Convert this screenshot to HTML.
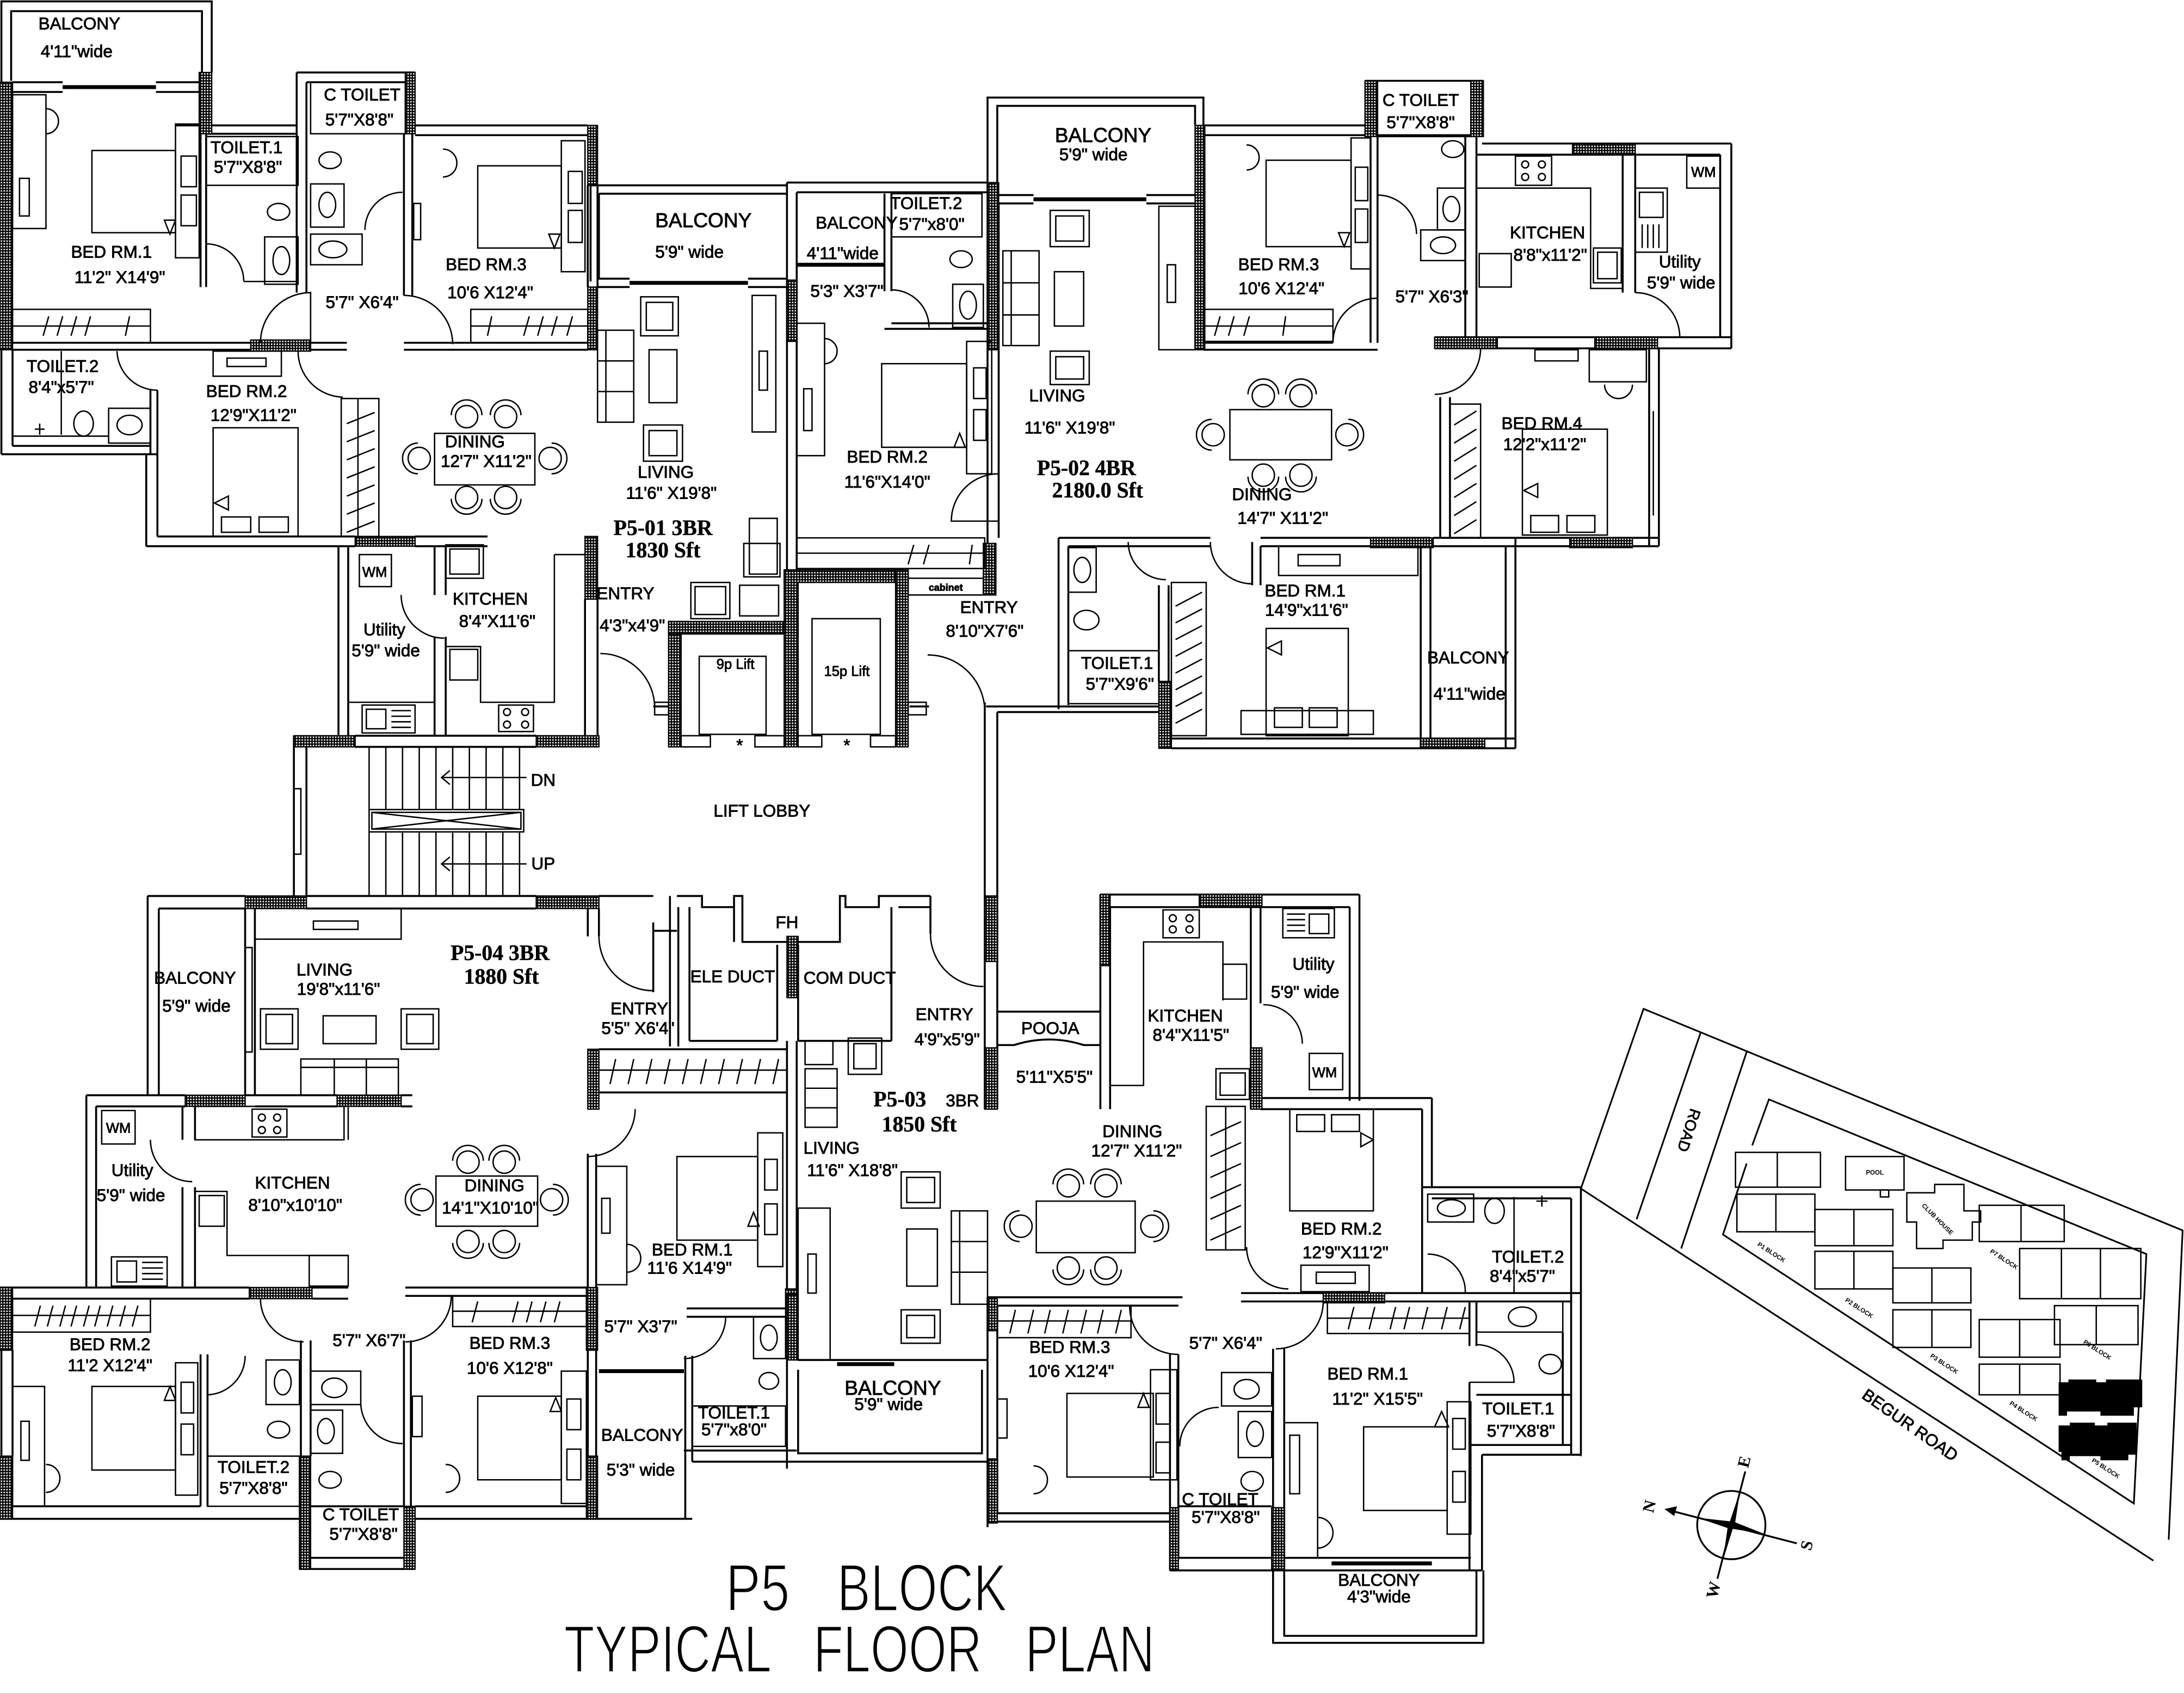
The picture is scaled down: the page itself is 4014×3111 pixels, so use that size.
<!DOCTYPE html>
<html><head><meta charset="utf-8">
<style>
html,body{margin:0;padding:0;background:#fff;width:4014px;height:3111px;overflow:hidden}
svg{display:block}
.w{fill:none;stroke:#000;stroke-width:1.4}
.f{fill:none;stroke:#000;stroke-width:1}
.h{fill:url(#hp);stroke:#000;stroke-width:0.9}
.th{fill:none;stroke:#000;stroke-width:2.8}
text{font-family:"Liberation Sans",sans-serif;font-size:12.3px;fill:#000;stroke:#000;stroke-width:0.35;text-anchor:middle}
text.b{font-family:"Liberation Serif",serif;font-weight:bold;font-size:15.5px;stroke-width:0.2}
text.l{font-size:14.5px}
text.s{font-size:10px}
text.xs{font-size:7px;font-weight:bold}
text.t{font-size:48px;stroke:#fff;stroke-width:1.1;text-anchor:start}
text.m{font-size:4.5px;stroke:none;font-weight:bold}
text.c{font-family:"Liberation Serif",serif;font-weight:bold;font-size:12px;stroke:none}
</style></head><body>
<svg xmlns="http://www.w3.org/2000/svg" width="4014" height="3111" viewBox="0 0 1568 1215" preserveAspectRatio="none">
<defs>
<pattern id="hp" width="2" height="2" patternUnits="userSpaceOnUse"><rect width="2" height="2" fill="#000"/><rect x="0.5" y="0.5" width="1.05" height="1.05" fill="#fff"/></pattern>
</defs>
<rect width="1568" height="1215" fill="#fff"/>

<!-- ================= WALLS ================= -->
<path class="w" d="
M1 62 V1 H152 V52 M8 58 V8 H145 V52
M9 59 H45 M112 59 H143 M9 66 H45 M112 66 H143
M126 90 H213 M148 96 H213
M144 96 V206 M148 96 V206
M9 246 H180 M9 251 H180 M223 246 H249 M223 251 H249
M290 246 H422 M290 251 H422
M213 52 H298 M220 59 H291
M213 52 V210 M220 59 V210
M290 96 V212 M296 96 V212
M296 90 H422 M298 97 H422
M422 133 V206 M429 133 V206
M424 133 H565 M430 139 H565 M424 133 V202 M430 139 V200
M429 200 H452 M537 200 H565 M429 206 H452 M537 206 H565
M565 131 V409 M572 138 V409
M1 251 V326 M9 251 V320 M1 326 H113 M9 320 H108
M108 280 V326 M113 280 V326
M105 326 V392 M113 326 V385
M105 392 H255 M113 385 H255
M298 385 H350 M298 392 H350
M243 392 V536 M250 392 V528
M312 392 V427 M320 392 V427 M312 457 V528 M320 457 V528
M420 430 V528 M429 430 V536
M255 528 H385 M255 536 H385
M469 507 H480 M653 507 H667

M211 528 V650 M220 536 V643
M220 643 H385 M220 652 H385
M106 643 H176 M114 652 H176
M106 643 V786 M114 652 V786
M176 652 V786 M183 652 V786
M430 643 H469
M422 652 V672 M430 652 V672
M469 662 V712 M469 668 H486
M481 643 V751 M487 651 V751
M486 643 H504 V651 H527 V643 H533 V676 H603 V643 H607 V651 H631 V643 H650
M495 651 V747 M558 678 V747 M573 678 V747 M640 651 V747
M495 747 H558 M573 747 H640 M527 651 V676
M640 643 H668 M645 651 H668 M668 643 V670
M176 786 H242 M183 794 H242 M288 786 H296 M288 794 H296
M62 786 H133 M69 794 H133
M62 786 V924 M69 794 V924
M131 794 V818 M140 794 V818 M131 852 V924 M140 852 V924
M0 924 H179 M9 932 H179 M224 924 H250 M224 932 H250
M1 969 V1045 M9 969 V1045
M422 828 V1090 M428 828 V1090
M430 753 H565 M430 784 H565
M493 939 H565 M493 945 H565
M492 973 V1090 M497 973 V1049
M491 1041 H572 M497 1049 H709
M428 1090 H497
M144 972 V1081 M149 972 V1081
M216 962 V1045 M223 962 V1045
M290 962 V1081 M295 962 V1081
M291 924 H422 M291 930 H422
M215 1126 H298 M223 1118 H290 M223 1081 H290
M0 1090 H216 M9 1081 H144
M298 1090 H429 M298 1081 H421

M709 140 V70 H864 V90 M716 140 V76 H858 V90
M716 140 H742 M823 140 H858 M717 146 H742 M823 146 H864
M709 140 V423 M717 146 V386
M565 131 H709 M572 138 H709
M635 139 V209 M640 139 V209
M635 236 H709 M640 232 H709
M864 90 H980 M864 97 H984
M984 97 V246 M989 97 V246
M864 246 H957 M864 251 H989
M980 58 H1065 M989 97 H1056
M1052 97 V243 M1060 97 V243
M1064 103 H1243 M1060 111 H1235
M1235 111 V242 M1243 103 V250
M1165 111 V210 M1174 111 V210
M1030 242 H1243 M1030 250 H1243
M1034 285 V386 M1041 285 V386
M1184 250 V392 M1191 250 V392
M1029 386 H1191 M1029 392 H1191
M760 386 H869 M767 392 H869
M760 386 V509 M767 392 V506
M832 420 V489 M839 420 V489
M899 389 V420 M905 392 V420
M905 386 H1027 M905 392 H1020
M1020 392 V537 M1027 392 V537
M1027 392 H1088 M1081 392 V537 M1088 386 V537
M841 530 H1088 M841 537 H1088
M708 507 H832 M716 511 H832
M707 504 V796 M716 511 V796

M790 642 H976 M797 651 H969
M790 642 V796 M797 651 V796
M898 651 V796 M905 651 V720
M969 651 V790 M976 642 V790
M905 788 H1028 M905 796 H1021
M1021 796 V928 M1028 788 V852
M1021 852 H1135 M1028 860 H1128
M1128 860 V1044 M1135 852 V1044
M891 928 H1135 M891 934 H1128
M1055 934 V966 M1060 934 V966
M1055 992 V1127 M1064 1044 V1127
M1060 1001 H1128 M1122 956 V1037
M1055 1037 H1128 M1064 1044 H1135
M914 968 V1179 H1065 V1127 M922 968 V1174 H1060 V1127
M914 1118 H1056 M922 1127 H1064
M709 931 H849 M716 937 H846
M840 972 V1127 M846 972 V1118
M840 1127 H922 M846 1118 H913 M846 1081 H913
M709 1092 H846 M716 1086 H840
M565 747 V1054 M572 747 V976
M573 976 H709 M573 983 V1043 H705 V983
M709 931 V1096 M716 937 V1086
M716 726 H790 M716 750 H728 Q753 742 778 750 H790
"/>
<!-- thick sliding doors -->
<path class="th" d="M45 62.5 H112 M452 203 H537 M742 143 H823 M572 190 H635 M430 984 H491 M601 979 H642 M956 1122 H1028"/>

<!-- ================= HATCHED ================= -->
<g class="h">
<rect x="0" y="59" width="9" height="192"/><rect x="143" y="52" width="9" height="44"/>
<rect x="291" y="52" width="7" height="44"/><rect x="422" y="90" width="7" height="43"/>
<rect x="422" y="206" width="7" height="45"/><rect x="180" y="244" width="43" height="8"/>
<rect x="255" y="385" width="43" height="7"/><rect x="420" y="385" width="9" height="45"/>
<rect x="211" y="528" width="44" height="8"/><rect x="385" y="528" width="45" height="8"/>
<rect x="565" y="201" width="7" height="44"/>
<rect x="480" y="446" width="9" height="90"/><rect x="480" y="446" width="88" height="9"/>
<rect x="563" y="409" width="10" height="127"/><rect x="563" y="409" width="89" height="9"/>
<rect x="643" y="409" width="9" height="127"/>
<rect x="706" y="390" width="9" height="37"/>
<rect x="709" y="131" width="8" height="120"/>
<rect x="858" y="90" width="7" height="161"/><rect x="980" y="58" width="9" height="40"/>
<rect x="1056" y="58" width="9" height="40"/><rect x="1129" y="103" width="45" height="8"/>
<rect x="1030" y="242" width="45" height="8"/><rect x="1145" y="242" width="45" height="8"/>
<rect x="984" y="386" width="45" height="7"/><rect x="1127" y="386" width="45" height="7"/>
<rect x="832" y="489" width="9" height="48"/><rect x="1020" y="530" width="46" height="7"/>
<rect x="707" y="643" width="9" height="47"/><rect x="707" y="752" width="9" height="44"/>
<rect x="176" y="643" width="44" height="9"/><rect x="385" y="643" width="45" height="9"/>
<rect x="133" y="786" width="43" height="8"/><rect x="242" y="786" width="46" height="8"/>
<rect x="179" y="924" width="45" height="8"/>
<rect x="0" y="924" width="9" height="45"/><rect x="0" y="1045" width="9" height="45"/>
<rect x="421" y="924" width="8" height="45"/><rect x="421" y="1045" width="8" height="45"/>
<rect x="422" y="753" width="8" height="43"/><rect x="564" y="925" width="8" height="44"/>
<rect x="215" y="1045" width="8" height="81"/><rect x="290" y="1081" width="8" height="45"/>
<rect x="565" y="672" width="8" height="44"/><rect x="790" y="642" width="7" height="51"/>
<rect x="861" y="642" width="45" height="9"/><rect x="898" y="752" width="8" height="44"/>
<rect x="950" y="928" width="44" height="7"/><rect x="709" y="931" width="7" height="24"/>
<rect x="709" y="1047" width="7" height="46"/><rect x="840" y="1082" width="6" height="45"/>
<rect x="913" y="1082" width="9" height="45"/><rect x="565" y="929" width="8" height="47"/>
</g>

<!-- ================= FURNITURE / FIXTURES ================= -->
<g class="f">
<!-- P5-01 bed rm1 -->
<rect x="9" y="68" width="24" height="96"/><rect x="14" y="128" width="7" height="27"/>
<path d="M33 78 A9 9 0 1 1 33 96"/>
<rect x="66" y="108" width="60" height="59"/><rect x="126" y="89" width="17" height="96"/>
<rect x="130" y="112" width="11" height="22"/><rect x="130" y="140" width="11" height="22"/>
<path d="M118 158 H126 L122 168 Z"/>
<rect x="9" y="222" width="99" height="24"/><path d="M9 234 H108 M31 241 L35 227 M41 241 L45 227 M51 241 L55 227 M61 241 L65 227 M90 241 L93 227"/>
<!-- toilet1 -->
<rect x="148" y="98" width="66" height="35"/><ellipse cx="200" cy="152" rx="8" ry="6"/>
<rect x="190" y="170" width="24" height="34"/><ellipse cx="202" cy="187" rx="6" ry="10"/>
<path d="M148 175 A27 27 0 0 1 175 202 M175 202 H213"/>
<!-- c toilet -->
<rect x="223" y="59" width="68" height="37"/><ellipse cx="237" cy="115" rx="8" ry="6"/>
<rect x="223" y="132" width="24" height="31"/><ellipse cx="235" cy="147" rx="6" ry="9"/>
<rect x="223" y="168" width="37" height="22"/><ellipse cx="239" cy="179" rx="10" ry="6"/>
<path d="M262 165 A27 27 0 0 1 289 138"/>
<!-- lobby doors -->
<path d="M187 246 A36 36 0 0 1 223 210 V246 M290 212 A35 35 0 0 1 325 247 M214 252 A33 33 0 0 0 246 285 M84 252 A29 29 0 0 0 113 280"/>
<!-- bed rm3 -->
<rect x="343" y="119" width="60" height="59"/><rect x="403" y="101" width="17" height="94"/>
<rect x="408" y="123" width="10" height="23"/><rect x="408" y="151" width="10" height="23"/>
<path d="M394 168 H402 L398 178 Z"/><path d="M318 107 A10 10 0 1 1 318 127"/>
<rect x="338" y="222" width="84" height="24"/><path d="M338 234 H422 M350 241 L353 227 M376 241 L380 227 M386 241 L390 227 M396 241 L400 227 M407 241 L411 227"/>
<rect x="297" y="146" width="5" height="26"/>
<!-- living P5-01 -->
<rect x="429" y="237" width="26" height="66"/><path d="M429 259 H455 M429 281 H455 M435 237 V303"/>
<rect x="460" y="213" width="27" height="28"/><rect x="464" y="217" width="19" height="20"/>
<rect x="462" y="305" width="28" height="26"/><rect x="466" y="309" width="20" height="18"/>
<rect x="466" y="251" width="20" height="38"/>
<rect x="540" y="212" width="17" height="98"/><rect x="545" y="252" width="6" height="28"/>
<rect x="534" y="390" width="26" height="24"/><rect x="538" y="372" width="20" height="40"/>
<rect x="496" y="418" width="28" height="26"/><rect x="499" y="421" width="22" height="20"/>
<rect x="531" y="420" width="28" height="22"/>
<!-- dining P5-01 -->
<rect x="312" y="311" width="72" height="37"/>
<circle cx="335" cy="299" r="8"/><circle cx="363" cy="299" r="8"/><circle cx="335" cy="357" r="8"/><circle cx="363" cy="357" r="8"/><circle cx="301" cy="329" r="8"/><circle cx="395" cy="329" r="8"/>
<path d="M324 298 A11 11 0 0 1 346 298 M352 298 A11 11 0 0 1 374 298 M324 358 A11 11 0 0 0 346 358 M352 358 A11 11 0 0 0 374 358 M300 318 A11 11 0 0 0 300 340 M396 318 A11 11 0 0 1 396 340"/>
<!-- toilet2 / bed rm2 P5-01 -->
<path d="M44 252 V312 M9 313 H78"/><ellipse cx="60" cy="304" rx="7" ry="9"/>
<rect x="78" y="293" width="30" height="25"/><ellipse cx="93" cy="305" rx="9" ry="7"/>
<path d="M25 308 H32 M28.5 304 V312"/>
<rect x="153" y="252" width="49" height="18"/><rect x="163" y="257" width="28" height="6"/>
<rect x="153" y="307" width="61" height="78"/><rect x="159" y="371" width="21" height="11"/><rect x="186" y="371" width="21" height="11"/>
<path d="M154 361 L164 356 V366 Z"/>
<rect x="245" y="286" width="27" height="99"/><path d="M257 286 V385 M249 304 L269 296 M249 317 L269 309 M249 330 L269 322 M249 343 L269 335 M249 356 L269 348 M249 369 L269 361 M249 382 L269 374"/>
<!-- kitchen P5-01 -->
<rect x="258" y="398" width="23" height="23"/>
<path d="M288 427 A31 31 0 0 0 319 458"/>
<rect x="320" y="391" width="27" height="24"/><rect x="323" y="394" width="21" height="18"/>
<path d="M398 398 H420 M398 398 V504 H345 V464 H320"/>
<rect x="323" y="466" width="20" height="22"/>
<rect x="358" y="506" width="25" height="19"/><circle cx="364" cy="511" r="2.5"/><circle cx="377" cy="511" r="2.5"/><circle cx="364" cy="520" r="2.5"/><circle cx="377" cy="520" r="2.5"/>
<path d="M250 504 H312"/><rect x="260" y="506" width="38" height="20"/><rect x="263" y="509" width="14" height="14"/><path d="M281 510 H295 M281 514 H295 M281 518 H295 M281 522 H295"/>
<!-- entry / lifts -->
<path d="M431 469 A39 39 0 0 1 470 508"/><rect x="470" y="504" width="10" height="9"/>
<path d="M666 470 A41 41 0 0 1 707 509"/><rect x="652" y="504" width="13" height="9"/>
<rect x="502" y="471" width="48" height="56"/>
<rect x="583" y="444" width="49" height="83"/>
<rect x="489" y="528" width="21" height="8"/><rect x="542" y="528" width="21" height="8"/>
<rect x="573" y="528" width="17" height="8"/><rect x="625" y="528" width="18" height="8"/>
<rect x="652" y="415" width="54" height="12"/>
<!-- P5-02 balcony/toilet2/bed rm2 -->
<rect x="640" y="139" width="65" height="31"/><ellipse cx="690" cy="186" rx="8" ry="6"/>
<rect x="684" y="204" width="22" height="31"/><ellipse cx="695" cy="219" rx="6" ry="10"/>
<path d="M640 208 A27 27 0 0 1 667 235"/>
<rect x="572" y="232" width="20" height="95"/><rect x="577" y="279" width="6" height="30"/>
<path d="M592 243 A9 9 0 1 1 592 261"/>
<rect x="633" y="261" width="61" height="60"/><rect x="694" y="245" width="18" height="95"/>
<rect x="699" y="264" width="9" height="22"/><rect x="699" y="294" width="9" height="22"/>
<path d="M685 321 L689 311 L693 321 Z"/>
<rect x="572" y="386" width="135" height="22"/><path d="M572 397 H707 M652 405 L656 391 M663 405 L667 391 M696 405 L698 391"/>
<path d="M717 340 A34 34 0 0 0 683 374 H717"/>
<!-- P5-02 living -->
<rect x="754" y="151" width="28" height="26"/><rect x="758" y="155" width="20" height="18"/>
<rect x="720" y="180" width="26" height="68"/><path d="M720 203 H746 M720 226 H746 M726 180 V248"/>
<rect x="757" y="195" width="21" height="39"/>
<rect x="754" y="252" width="28" height="24"/><rect x="758" y="256" width="20" height="16"/>
<!-- P5-02 bed rm3 -->
<rect x="832" y="148" width="26" height="103"/><rect x="838" y="190" width="6" height="27"/>
<rect x="909" y="115" width="61" height="62"/><rect x="970" y="99" width="14" height="94"/>
<rect x="973" y="120" width="9" height="24"/><rect x="973" y="150" width="9" height="24"/>
<path d="M961 167 H969 L965 177 Z"/><path d="M895 104 A9 9 0 1 1 895 122"/>
<rect x="864" y="222" width="93" height="23"/><path d="M864 234 H957 M872 241 L876 227 M882 241 L886 227 M893 241 L897 227 M921 241 L923 227"/>
<path d="M957 246 A32 32 0 0 1 989 214"/>
<!-- P5-02 c toilet -->
<rect x="989" y="58" width="67" height="40"/><ellipse cx="1043" cy="107" rx="8" ry="6"/>
<rect x="1032" y="135" width="20" height="30"/><ellipse cx="1042" cy="150" rx="6" ry="9"/>
<rect x="1020" y="165" width="32" height="22"/><ellipse cx="1036" cy="176" rx="9" ry="6"/>
<path d="M989 140 A28 28 0 0 1 1017 168"/>
<!-- P5-02 kitchen / utility -->
<rect x="1088" y="112" width="26" height="21"/><circle cx="1095" cy="118" r="2.5"/><circle cx="1107" cy="118" r="2.5"/><circle cx="1095" cy="127" r="2.5"/><circle cx="1107" cy="127" r="2.5"/>
<path d="M1060 135 H1142 V207 H1165"/>
<rect x="1144" y="178" width="20" height="25"/><rect x="1147" y="181" width="14" height="19"/>
<rect x="1062" y="182" width="23" height="24"/>
<rect x="1174" y="135" width="23" height="46"/><rect x="1177" y="138" width="17" height="18"/><path d="M1179 161 V178 M1183 161 V178 M1187 161 V178 M1191 161 V178"/>
<rect x="1211" y="112" width="24" height="23"/>
<path d="M1174 210 A32 32 0 0 1 1206 242 M1063 250 A33 33 0 0 1 1030 283"/>
<!-- bed rm4 -->
<rect x="1041" y="290" width="22" height="96"/><path d="M1044 305 L1060 295 M1044 318 L1060 308 M1044 331 L1060 321 M1044 344 L1060 334 M1044 357 L1060 347 M1044 370 L1060 360 M1044 383 L1060 373"/>
<rect x="1093" y="308" width="61" height="76"/><rect x="1099" y="370" width="20" height="12"/><rect x="1125" y="370" width="20" height="12"/>
<path d="M1094 352 L1104 347 V357 Z"/>
<rect x="1141" y="251" width="41" height="23"/><rect x="1102" y="251" width="31" height="8"/>
<path d="M1152 276 A10 10 0 0 0 1172 276 M1187 295 V370"/>
<!-- P5-02 bed rm1 / toilet1 -->
<rect x="767" y="393" width="20" height="32"/><ellipse cx="777" cy="409" rx="6" ry="9"/>
<ellipse cx="780" cy="445" rx="9" ry="7"/><rect x="767" y="467" width="65" height="38"/>
<path d="M810 389 A27 27 0 0 0 837 416 M869 389 A30 30 0 0 0 899 419"/>
<rect x="841" y="418" width="25" height="110"/><path d="M844 435 L863 425 M844 447 L863 437 M844 459 L863 449 M844 471 L863 461 M844 483 L863 473 M844 495 L863 485 M844 507 L863 497 M844 519 L863 509"/>
<rect x="918" y="392" width="100" height="21"/><rect x="932" y="398" width="30" height="8"/>
<rect x="909" y="451" width="59" height="77"/><rect x="915" y="508" width="20" height="14"/><rect x="940" y="508" width="20" height="14"/>
<path d="M910 465 L920 460 V470 Z"/><rect x="891" y="510" width="95" height="17"/>
<!-- P5-02 dining -->
<rect x="883" y="294" width="73" height="36"/>
<circle cx="907" cy="284" r="8"/><circle cx="934" cy="284" r="8"/><circle cx="907" cy="341" r="8"/><circle cx="934" cy="341" r="8"/><circle cx="871" cy="312" r="8"/><circle cx="967" cy="312" r="8"/>
<path d="M896 283 A11 11 0 0 1 918 283 M923 283 A11 11 0 0 1 945 283 M896 342 A11 11 0 0 0 918 342 M923 342 A11 11 0 0 0 945 342 M870 301 A11 11 0 0 0 870 323 M968 301 A11 11 0 0 1 968 323"/>

<!-- stair -->
<rect x="211" y="566" width="5" height="47"/>
<path d="M265 536 V581 M277 536 V581 M289 536 V581 M301 536 V581 M313 536 V581 M325 536 V581 M337 536 V581 M349 536 V581 M361 536 V581 M373 536 V581
M265 597 V643 M277 597 V643 M289 597 V643 M301 597 V643 M313 597 V643 M325 597 V643 M337 597 V643 M349 597 V643 M361 597 V643 M373 597 V643"/>
<rect x="265" y="581" width="111" height="16"/><rect x="267" y="583" width="107" height="12"/>
<path d="M267 583 L374 595 M267 595 L374 583"/>
<path d="M317 558 H378 M323 553 L317 558 L323 563 M317 620 H378 M323 615 L317 620 L323 625"/>

<!-- P5-04 living -->
<rect x="183" y="652" width="105" height="22"/><rect x="225" y="661" width="32" height="6"/>
<rect x="187" y="724" width="27" height="29"/><rect x="191" y="728" width="19" height="21"/>
<rect x="288" y="724" width="27" height="29"/><rect x="292" y="728" width="19" height="21"/>
<rect x="232" y="729" width="38" height="20"/>
<rect x="216" y="760" width="70" height="26"/><path d="M240 760 V786 M263 760 V786 M216 766 H286"/>
<rect x="176" y="680" width="5" height="75"/>
<path d="M430 672 A39 39 0 0 0 469 711"/>
<!-- wardrobe strip P5-04 -->
<path d="M430 768 H565 M438 778 L442 760 M451 778 L455 760 M464 778 L468 760 M477 778 L481 760 M490 778 L494 760 M503 778 L507 760 M516 778 L520 760 M529 778 L533 760 M542 778 L546 760 M555 778 L559 760"/>
<!-- bed rm1 P5-04 -->
<path d="M456 796 A34 34 0 0 1 422 830"/>
<rect x="428" y="837" width="22" height="85"/><rect x="432" y="860" width="6" height="25"/>
<path d="M450 893 A10 10 0 1 1 450 913"/>
<rect x="486" y="830" width="58" height="60"/><rect x="544" y="813" width="18" height="96"/>
<rect x="549" y="832" width="9" height="22"/><rect x="549" y="864" width="9" height="22"/>
<path d="M537 880 L541 870 L545 880 Z"/>
<path d="M521 945 A30 30 0 0 1 491 975"/>
<rect x="497" y="1009" width="67" height="29"/><ellipse cx="552" cy="991" rx="7" ry="6"/>
<rect x="541" y="945" width="23" height="30"/><ellipse cx="552" cy="960" rx="6" ry="9"/>
<!-- utility / kitchen P5-04 -->
<rect x="73" y="797" width="24" height="24"/>
<path d="M108 818 A30 30 0 0 0 138 848"/>
<rect x="80" y="902" width="40" height="21"/><rect x="84" y="905" width="14" height="15"/><path d="M102 906 H117 M102 910 H117 M102 914 H117 M102 918 H117"/>
<rect x="140" y="794" width="107" height="24"/><rect x="181" y="796" width="25" height="20"/>
<circle cx="188" cy="802" r="2.5"/><circle cx="199" cy="802" r="2.5"/><circle cx="188" cy="811" r="2.5"/><circle cx="199" cy="811" r="2.5"/>
<path d="M140 855 H163 V901 H250 M250 786 V818"/>
<rect x="143" y="858" width="18" height="22"/><rect x="222" y="901" width="28" height="22"/>
<!-- dining P5-04 -->
<rect x="313" y="844" width="73" height="36"/>
<circle cx="336" cy="834" r="8"/><circle cx="362" cy="834" r="8"/><circle cx="336" cy="891" r="8"/><circle cx="362" cy="891" r="8"/><circle cx="303" cy="861" r="8"/><circle cx="396" cy="861" r="8"/>
<path d="M325 833 A11 11 0 0 1 347 833 M351 833 A11 11 0 0 1 373 833 M325 892 A11 11 0 0 0 347 892 M351 892 A11 11 0 0 0 373 892 M302 850 A11 11 0 0 0 302 872 M397 850 A11 11 0 0 1 397 872"/>
<!-- bed rm2 P5-04 -->
<rect x="9" y="932" width="99" height="24"/><path d="M9 944 H108 M25 952 L29 937 M34 952 L38 937 M43 952 L47 937 M51 952 L55 937 M60 952 L64 937 M68 952 L72 937 M77 952 L81 937 M86 952 L90 937 M95 952 L99 937"/>
<rect x="66" y="995" width="60" height="60"/><rect x="126" y="978" width="16" height="95"/>
<rect x="130" y="992" width="9" height="22"/><rect x="130" y="1022" width="9" height="22"/>
<path d="M118 1005 L122 995 L126 1005 Z"/>
<rect x="9" y="995" width="23" height="86"/><rect x="15" y="1020" width="6" height="28"/>
<path d="M33 1051 A10 10 0 1 1 33 1071"/>
<path d="M187 932 A31 31 0 0 0 218 963 M176 973 A28 28 0 0 1 149 1001"/>
<!-- toilet2 / c toilet P5-04 -->
<rect x="149" y="1045" width="66" height="36"/>
<rect x="191" y="976" width="24" height="32"/><ellipse cx="203" cy="992" rx="6" ry="9"/><ellipse cx="200" cy="1026" rx="8" ry="6"/>
<rect x="223" y="984" width="36" height="24"/><ellipse cx="240" cy="996" rx="9" ry="7"/>
<rect x="223" y="1012" width="23" height="31"/><ellipse cx="234" cy="1027" rx="6" ry="9"/>
<ellipse cx="237" cy="1062" rx="8" ry="6"/>
<path d="M259 1008 A30 30 0 0 0 289 1036"/>
<!-- bed rm3 P5-04 -->
<path d="M324 930 A33 33 0 0 1 291 963"/>
<rect x="325" y="930" width="96" height="22"/><path d="M325 941 H421 M339 949 L343 934 M368 949 L372 934 M378 949 L382 934 M388 949 L392 934 M398 949 L402 934"/>
<rect x="343" y="1002" width="60" height="60"/><rect x="403" y="984" width="18" height="95"/>
<rect x="407" y="1004" width="10" height="22"/><rect x="407" y="1040" width="10" height="22"/>
<path d="M395 1013 L399 1003 L403 1013 Z"/>
<rect x="296" y="1002" width="7" height="29"/><path d="M320 1051 A10 10 0 1 1 320 1071"/>

<!-- P5-03 -->
<path d="M668 670 A38 38 0 0 0 706 708"/>
<rect x="835" y="653" width="26" height="20"/><circle cx="842" cy="659" r="2.5"/><circle cx="854" cy="659" r="2.5"/><circle cx="842" cy="667" r="2.5"/><circle cx="854" cy="667" r="2.5"/>
<path d="M797 779 H821 V676 H878 V718"/>
<rect x="878" y="692" width="17" height="25"/><rect x="873" y="767" width="24" height="22"/><rect x="876" y="770" width="18" height="16"/>
<rect x="921" y="652" width="37" height="21"/><rect x="940" y="656" width="14" height="14"/><path d="M924 656 H937 M924 660 H937 M924 664 H937 M924 668 H937"/>
<rect x="940" y="756" width="24" height="26"/>
<path d="M907 721 A28 28 0 0 1 935 749"/>
<rect x="866" y="794" width="28" height="103"/><path d="M880 794 V897 M869 815 L891 805 M869 830 L891 820 M869 845 L891 835 M869 860 L891 850 M869 875 L891 865 M869 890 L891 880"/>
<rect x="926" y="796" width="60" height="73"/><rect x="931" y="800" width="20" height="12"/><rect x="956" y="800" width="20" height="12"/>
<path d="M977 813 L986 818 L977 823 Z"/>
<rect x="934" y="908" width="49" height="19"/><rect x="945" y="913" width="28" height="8"/>
<path d="M895 895 A30 30 0 0 0 925 925"/>
<rect x="1025" y="857" width="33" height="20"/><ellipse cx="1042" cy="867" rx="10" ry="6"/>
<ellipse cx="1073" cy="869" rx="7" ry="9"/><path d="M1087 859 V928 M1103 862 H1111 M1107 858 V866"/>
<path d="M1025 900 A27 27 0 0 1 1052 928"/>
<rect x="953" y="934" width="102" height="23"/><path d="M953 946 H1055 M968 954 L972 938 M983 954 L987 938 M998 954 L1002 938 M1008 954 L1012 938 M1021 954 L1025 938 M1035 954 L1039 938 M1048 954 L1052 938"/>
<rect x="1060" y="934" width="62" height="22"/><ellipse cx="1093" cy="945" rx="10" ry="7"/>
<rect x="979" y="1024" width="60" height="60"/><rect x="1039" y="1006" width="17" height="95"/>
<rect x="1043" y="1018" width="9" height="22"/><rect x="1043" y="1056" width="9" height="22"/>
<path d="M1030 1024 L1035 1013 L1040 1024 Z"/>
<rect x="922" y="1021" width="24" height="97"/><rect x="926" y="1030" width="7" height="42"/>
<path d="M946 1089 A11 11 0 1 1 946 1111"/>
<path d="M950 934 A34 34 0 0 1 916 968"/>
<ellipse cx="1113" cy="979" rx="8" ry="7"/>
<path d="M1060 965 A27 27 0 0 1 1087 992 H1055"/>
<rect x="877" y="985" width="36" height="24"/><ellipse cx="895" cy="997" rx="9" ry="7"/>
<rect x="889" y="1013" width="24" height="33"/><ellipse cx="901" cy="1029" rx="6" ry="9"/>
<ellipse cx="899" cy="1063" rx="8" ry="7"/>
<path d="M875 1010 A28 28 0 0 0 847 1038"/>
<rect x="716" y="937" width="96" height="23"/><path d="M716 948 H812 M725 957 L729 940 M738 957 L742 940 M750 957 L754 940 M763 957 L767 940 M776 957 L780 940 M788 957 L792 940 M801 957 L805 940"/>
<rect x="766" y="1000" width="62" height="60"/><rect x="826" y="983" width="19" height="79"/>
<rect x="830" y="1000" width="10" height="22"/><rect x="830" y="1035" width="10" height="22"/>
<path d="M817 1010 L821 1000 L825 1010 Z"/>
<rect x="716" y="1004" width="7" height="28"/><path d="M742 1052 A10 10 0 1 1 742 1072"/>
<path d="M811 937 A35 35 0 0 0 846 972"/>
<!-- P5-03 living -->
<rect x="578" y="767" width="23" height="42"/><path d="M578 781 H601 M578 795 H601"/>
<rect x="578" y="747" width="20" height="17"/>
<rect x="609" y="745" width="24" height="26"/><rect x="613" y="749" width="16" height="18"/>
<rect x="573" y="867" width="23" height="109"/><rect x="580" y="900" width="6" height="28"/>
<rect x="647" y="841" width="28" height="26"/><rect x="651" y="845" width="20" height="18"/>
<rect x="651" y="882" width="22" height="41"/>
<rect x="683" y="869" width="26" height="67"/><path d="M683 891 H709 M683 913 H709 M689 869 V936"/>
<rect x="647" y="940" width="28" height="24"/><rect x="651" y="944" width="20" height="16"/>
<!-- P5-03 dining -->
<rect x="744" y="862" width="71" height="37"/>
<circle cx="767" cy="851" r="8"/><circle cx="794" cy="851" r="8"/><circle cx="767" cy="910" r="8"/><circle cx="794" cy="910" r="8"/><circle cx="733" cy="880" r="8"/><circle cx="827" cy="880" r="8"/>
<path d="M756 850 A11 11 0 0 1 778 850 M783 850 A11 11 0 0 1 805 850 M756 911 A11 11 0 0 0 778 911 M783 911 A11 11 0 0 0 805 911 M732 869 A11 11 0 0 0 732 891 M828 869 A11 11 0 0 1 828 891"/>
</g>

<!-- ================= SITE PLAN ================= -->
<g class="w" style="stroke-width:1.2">
<path d="M1135 853 L1180 724 L1567 883 L1557 1105 M1135 853 L1546 1120 M1135 853 V1045"/>
<path d="M1221 741 L1175 875 M1254 755 L1207 896"/>
<path d="M1258 822 L1270 789 L1541 900 L1532 1079 L1237 886 L1254 835"/>
</g>
<g class="f">
<rect x="1246" y="827" width="61" height="25"/><path d="M1276 827 V852"/>
<rect x="1247" y="857" width="56" height="27"/><path d="M1275 857 V884"/>
<rect x="1303" y="868" width="56" height="26"/><path d="M1331 868 V894"/>
<rect x="1325" y="830" width="42" height="24"/><rect x="1350" y="854" width="6" height="5"/>
<path d="M1369 856 H1389 V850 H1410 V869 H1422 V877 H1416 V890 H1395 V896 H1376 V877 H1369 Z"/>
<rect x="1421" y="865" width="61" height="26"/><path d="M1451 865 V891"/>
<rect x="1303" y="898" width="56" height="27"/><path d="M1331 898 V925"/>
<rect x="1359" y="910" width="56" height="25"/><path d="M1387 910 V935"/>
<rect x="1450" y="896" width="87" height="36"/><path d="M1480 896 V932 M1508 896 V932"/>
<rect x="1359" y="940" width="56" height="27"/><path d="M1387 940 V967"/>
<rect x="1421" y="947" width="58" height="27"/><path d="M1450 947 V974"/>
<rect x="1475" y="937" width="60" height="28"/><path d="M1505 937 V965"/>
<rect x="1421" y="979" width="58" height="22"/><path d="M1450 979 V1001"/>
</g>
<path d="M1478 992 H1485 V990 H1505 V992 H1512 V990 H1538 V1010 H1532 V1016 H1508 V1013 H1484 V1016 H1478 Z" fill="#000"/>
<path d="M1478 1023 H1486 V1021 H1504 V1023 H1513 V1021 H1534 V1044 H1528 V1048 H1508 V1045 H1486 V1048 H1480 V1042 H1478 Z" fill="#000"/>
<!-- compass -->
<g class="f" style="stroke-width:1.3">
<circle cx="1243" cy="1094.5" r="24.5"/>
<path d="M1197 1083.5 L1290 1107.6 M1253 1056 L1233 1133"/>
</g>
<path d="M1195 1083 L1204 1081 L1202 1088 Z" fill="#000"/>
<path d="M1249.3 1070 L1245.8 1092.5 L1266.9 1100.9 L1244 1097.2 L1237 1119.8 L1240.3 1096.6 L1218.7 1089.2 L1242 1091.8 Z" fill="#000"/>
<text class="c" transform="translate(1256 1050) rotate(-76)">E</text>
<text class="c" transform="translate(1188 1082) rotate(-76)">N</text>
<text class="c" transform="translate(1301 1110) rotate(-76)">S</text>
<text class="c" transform="translate(1234 1142) rotate(-76)">W</text>
<text transform="translate(1209 810) rotate(108)" style="font-size:11px">ROAD</text>
<text transform="translate(1369 1026) rotate(35)" style="font-size:12px">BEGUR ROAD</text>
<text class="m" x="1346" y="843">POOL</text>
<text class="m" transform="translate(1390 876) rotate(45)">CLUB HOUSE</text>
<text class="m" transform="translate(1271 900) rotate(33)">P1 BLOCK</text>
<text class="m" transform="translate(1334 940) rotate(33)">P2 BLOCK</text>
<text class="m" transform="translate(1395 980) rotate(33)">P3 BLOCK</text>
<text class="m" transform="translate(1452 1014) rotate(33)">P4 BLOCK</text>
<text class="m" transform="translate(1511 1055) rotate(33)">P5 BLOCK</text>
<text class="m" transform="translate(1505 970) rotate(33)">P6 BLOCK</text>
<text class="m" transform="translate(1438 905) rotate(33)">P7 BLOCK</text>

<!-- ================= LABELS ================= -->
<!-- P5-01 -->
<text x="57" y="21">BALCONY</text><text x="55" y="41">4'11"wide</text>
<text x="260" y="72">C TOILET</text><text x="258" y="90">5'7"X8'8"</text>
<text x="177" y="110">TOILET.1</text><text x="178" y="124">5'7"X8'8"</text>
<text x="80" y="185">BED RM.1</text><text x="86" y="203">11'2" X14'9"</text>
<text x="349" y="194">BED RM.3</text><text x="352" y="214">10'6 X12'4"</text>
<text x="260" y="221">5'7" X6'4"</text>
<text class="l" x="505" y="163">BALCONY</text><text x="495" y="185">5'9" wide</text>
<text x="45" y="267">TOILET.2</text><text x="44" y="282">8'4"x5'7"</text>
<text x="177" y="285">BED RM.2</text><text x="182" y="302">12'9"X11'2"</text>
<text x="341" y="321">DINING</text><text x="349" y="335">12'7" X11'2"</text>
<text x="478" y="343">LIVING</text><text x="482" y="358">11'6" X19'8"</text>
<text class="b" x="476" y="384">P5-01 3BR</text><text class="b" x="476" y="400">1830 Sft</text>
<text x="352" y="434">KITCHEN</text><text x="357" y="450">8'4"X11'6"</text>
<text x="276" y="456">Utility</text><text x="277" y="471">5'9" wide</text>
<text x="449" y="430">ENTRY</text><text x="454" y="453">4'3"x4'9"</text>
<text class="s" x="528" y="480">9p Lift</text><text class="s" x="608" y="485">15p Lift</text>
<text class="s" x="269" y="414">WM</text>
<text class="xs" x="679" y="424">cabinet</text>
<text x="531" y="539">*</text><text x="608" y="539">*</text>
<text x="547" y="586">LIFT LOBBY</text>
<text x="390" y="564">DN</text><text x="390" y="624">UP</text>
<!-- P5-02 -->
<text class="l" x="792" y="102">BALCONY</text><text x="785" y="115">5'9" wide</text>
<text x="1020" y="76">C TOILET</text><text x="1020" y="92">5'7"X8'8"</text>
<text x="665" y="150">TOILET.2</text><text x="669" y="165">5'7"x8'0"</text>
<text x="615" y="164">BALCONY</text><text x="605" y="186">4'11"wide</text>
<text x="608" y="213">5'3" X3'7"</text>
<text x="918" y="194">BED RM.3</text><text x="920" y="211">10'6 X12'4"</text>
<text x="1028" y="217">5'7" X6'3"</text>
<text x="1111" y="171">KITCHEN</text><text x="1113" y="187">8'8"x11'2"</text>
<text x="1206" y="192">Utility</text><text x="1207" y="207">5'9" wide</text>
<text class="s" x="1223" y="127">WM</text>
<text x="759" y="288">LIVING</text><text x="768" y="311">11'6" X19'8"</text>
<text class="b" x="780" y="341">P5-02 4BR</text><text class="b" x="788" y="357">2180.0 Sft</text>
<text x="906" y="359">DINING</text><text x="921" y="376">14'7" X11'2"</text>
<text x="637" y="332">BED RM.2</text><text x="637" y="350">11'6"X14'0"</text>
<text x="1107" y="308">BED RM.4</text><text x="1109" y="323">12'2"x11'2"</text>
<text x="937" y="428">BED RM.1</text><text x="938" y="442">14'9"x11'6"</text>
<text x="802" y="480">TOILET.1</text><text x="804" y="495">5'7"X9'6"</text>
<text x="1054" y="476">BALCONY</text><text x="1055" y="502">4'11"wide</text>
<text x="710" y="440">ENTRY</text><text x="707" y="457">8'10"X7'6"</text>
<!-- P5-04 -->
<text class="b" x="359" y="689">P5-04 3BR</text><text class="b" x="360" y="706">1880 Sft</text>
<text x="140" y="706">BALCONY</text><text x="141" y="726">5'9" wide</text>
<text x="233" y="700">LIVING</text><text x="243" y="714">19'8"x11'6"</text>
<text x="459" y="728">ENTRY</text><text x="458" y="742">5'5" X6'4"</text>
<text x="526" y="705">ELE DUCT</text><text x="610" y="706">COM DUCT</text>
<text x="565" y="666">FH</text>
<text x="95" y="844">Utility</text><text x="94" y="862">5'9" wide</text>
<text class="s" x="85" y="813">WM</text>
<text x="210" y="853">KITCHEN</text><text x="212" y="869">8'10"x10'10"</text>
<text x="355" y="855">DINING</text><text x="352" y="871">14'1"X10'10"</text>
<text x="497" y="901">BED RM.1</text><text x="495" y="914">11'6 X14'9"</text>
<text x="460" y="956">5'7" X3'7"</text>
<text x="79" y="969">BED RM.2</text><text x="79" y="984">11'2 X12'4"</text>
<text x="265" y="966">5'7" X6'7"</text>
<text x="366" y="968">BED RM.3</text><text x="366" y="986">10'6 X12'8"</text>
<text x="461" y="1034">BALCONY</text><text x="460" y="1059">5'3" wide</text>
<text x="527" y="1018">TOILET.1</text><text x="527" y="1030">5'7"x8'0"</text>
<text x="182" y="1057">TOILET.2</text><text x="182" y="1072">5'7"X8'8"</text>
<text x="259" y="1091">C TOILET</text><text x="261" y="1105">5'7"X8'8"</text>
<!-- P5-03 -->
<text x="678" y="732">ENTRY</text><text x="680" y="750">4'9"x5'9"</text>
<text x="754" y="742">POOJA</text><text x="757" y="777">5'11"X5'5"</text>
<text x="851" y="733">KITCHEN</text><text x="855" y="747">8'4"X11'5"</text>
<text x="943" y="696">Utility</text><text x="937" y="716">5'9" wide</text>
<text class="s" x="951" y="773">WM</text>
<text class="b" x="646" y="794">P5-03</text><text x="691" y="794">3BR</text>
<text class="b" x="660" y="812">1850 Sft</text>
<text x="597" y="828">LIVING</text><text x="612" y="844">11'6" X18'8"</text>
<text x="813" y="816">DINING</text><text x="816" y="830">12'7" X11'2"</text>
<text x="963" y="886">BED RM.2</text><text x="966" y="903">12'9"X11'2"</text>
<text x="1097" y="906">TOILET.2</text><text x="1093" y="920">8'4"x5'7"</text>
<text x="880" y="968">5'7" X6'4"</text>
<text x="768" y="971">BED RM.3</text><text x="769" y="988">10'6 X12'4"</text>
<text x="982" y="990">BED RM.1</text><text x="989" y="1008">11'2" X15'5"</text>
<text x="1090" y="1015">TOILET.1</text><text x="1092" y="1031">5'7"X8'8"</text>
<text class="l" x="641" y="1001">BALCONY</text><text x="638" y="1012">5'9" wide</text>
<text x="876" y="1080">C TOILET</text><text x="880" y="1093">5'7"X8'8"</text>
<text x="990" y="1138">BALCONY</text><text x="990" y="1150">4'3"wide</text>

<!-- ================= TITLE ================= -->
<text class="t" x="521" y="1156" textLength="46" lengthAdjust="spacingAndGlyphs">P5</text>
<text class="t" x="601" y="1156" textLength="122" lengthAdjust="spacingAndGlyphs">BLOCK</text>
<text class="t" x="405" y="1200" textLength="149" lengthAdjust="spacingAndGlyphs">TYPICAL</text>
<text class="t" x="584" y="1200" textLength="121" lengthAdjust="spacingAndGlyphs">FLOOR</text>
<text class="t" x="736" y="1200" textLength="93" lengthAdjust="spacingAndGlyphs">PLAN</text>
</svg>
</body></html>
